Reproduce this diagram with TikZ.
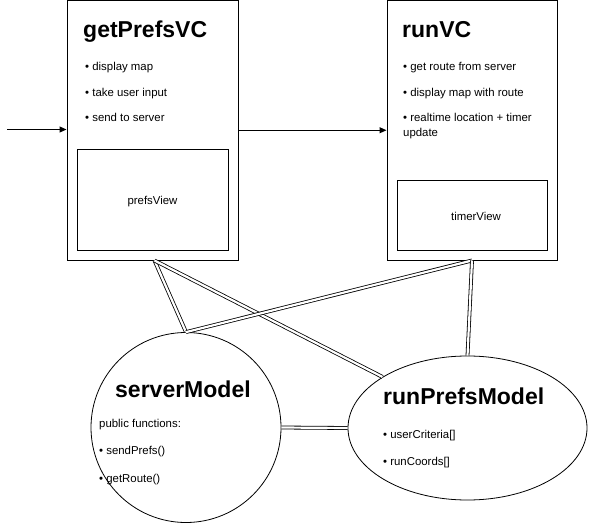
\documentclass[tikz,border=0pt]{standalone}
\usepackage{fontspec}
\setmainfont{Liberation Sans}
\usetikzlibrary{shapes.geometric,arrows.meta}
\begin{document}
\begin{tikzpicture}[x=1pt,y=-1pt,
  box/.style={draw, line width=1pt, inner sep=0pt, rectangle},
  ttl/.style={anchor=base west, inner sep=0pt, font=\fontsize{23}{27}\selectfont\bfseries},
  txt/.style={anchor=base west, inner sep=0pt, font=\fontsize{11.4}{14}\selectfont},
  ctxt/.style={inner sep=0pt, font=\fontsize{11.4}{14}\selectfont},
  link/.style={draw, line width=0.8pt, double=white, double distance=2.2pt},
  arr/.style={draw, line width=1pt, -{Triangle[length=7pt,width=6pt]}}]
\useasboundingbox (0,0) rectangle (589,524);
% shapes
\node[box, minimum width=171pt, minimum height=259.5pt] (gp) at (152.5,130.25) {};
\node[box, minimum width=151pt, minimum height=100pt] (pv) at (152.5,200) {};
\node[box, minimum width=170pt, minimum height=259.5pt] (rv) at (472,130.25) {};
\node[box, minimum width=150pt, minimum height=70pt] (tv) at (472,215) {};
\node[draw, line width=0.8pt, circle, minimum size=190pt, inner sep=0pt] (sm) at (186,427.5) {};
\node[draw, line width=0.8pt, ellipse, minimum width=239pt, minimum height=144pt, inner sep=0pt] (rp) at (467.5,428) {};
% texts
\node[ttl] (gpt) at (83,37.5) {getPrefsVC};
\node[txt] (gpb1) at (85,71) {• display map};
\node[txt] (gpb2) at (85,96.5) {• take user input};
\node[txt] (gpb3) at (85,122) {• send to server};
\node[ctxt] (pvt) at (152.5,202) {prefsView};
\node[ttl] (rvt) at (402,37.5) {runVC};
\node[txt] (rvb1) at (403,71) {• get route from server};
\node[txt] (rvb2) at (403,96.5) {• display map with route};
\node[txt] (rvb3) at (403,122) {• realtime location + timer};
\node[txt] (rvb4) at (403,136.5) {update};
\node[ctxt] (tvt) at (476,216) {timerView};
\node[ttl] (smt) at (115,397) {serverModel};
\node[txt] (sm1) at (99,427) {public functions:};
\node[txt] (sm2) at (99,454.5) {• sendPrefs()};
\node[txt] (sm3) at (99,482) {• getRoute()};
\node[ttl] (rpt) at (383,404) {runPrefsModel};
\node[txt] (rp1) at (383,438) {• userCriteria[]};
\node[txt] (rp2) at (383,465) {• runCoords[]};
% arrows
\coordinate (in) at (7,129.5);
\draw[arr] (in) -- (in -| gp.west);
\draw[arr] (gp.east) -- (rv.west);
% links
\draw[link] ([xshift=2pt]gp.south) -- (sm.north);
\draw[link] ([xshift=2pt]gp.south) -- (rp.149);
\draw[link] (rv.south) -- (sm.north);
\draw[link] (rv.south) -- (rp.north);
\draw[link] (sm.east) -- (rp.west);
\end{tikzpicture}
\end{document}
